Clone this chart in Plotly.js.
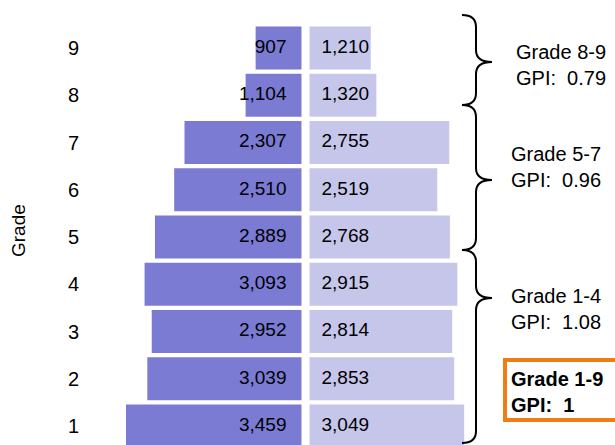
<!DOCTYPE html>
<html>
<head>
<meta charset="utf-8">
<script src="https://cdn.plot.ly/plotly-3.0.1.min.js"></script>
<style>html,body{margin:0;padding:0;background:#fff;}#chart{width:615px;height:445px;}</style>
</head>
<body>
<div id="chart"></div>
<script>
// ---- data ----
const grades = [1, 2, 3, 4, 5, 6, 7, 8, 9];
const gradeLabels = ['1', '2', '3', '4', '5', '6', '7', '8', '9'];
const girls = [3459, 3039, 2952, 3093, 2889, 2510, 2307, 1104, 907];   // left bars
const boys  = [3049, 2853, 2814, 2915, 2768, 2519, 2755, 1320, 1210];  // right bars
const groupTitles = ['Grade 8-9', 'Grade 5-7', 'Grade 1-4'];
const groupGPI = ['0.79', '0.96', '1.08'];
const totalTitle = 'Grade 1-9';
const totalGPI = '1';
const axisTitle = 'Grade';

// ---- layout helpers ----
const W = 615, H = 445;
const px = x => x / W;
const py = y => 1 - y / H;
const fmt = v => v.toLocaleString('en-US');

const leftColor = '#7b7bd3';
const rightColor = '#c6c6eb';
const fontFam = 'Liberation Sans, Arial, sans-serif';

const traces = [
  {type: 'bar', orientation: 'h', x: girls, y: grades, xaxis: 'x', yaxis: 'y',
   width: 0.91, marker: {color: leftColor}, name: 'Girls'},
  {type: 'bar', orientation: 'h', x: boys, y: grades, xaxis: 'x2', yaxis: 'y',
   width: 0.91, marker: {color: rightColor}, name: 'Boys'},
  {type: 'scatter', mode: 'text', x: grades.map(() => 300), y: grades, xaxis: 'x', yaxis: 'y',
   text: girls.map(fmt), textposition: 'middle left',
   textfont: {family: fontFam, size: 19, color: '#000'}},
  {type: 'scatter', mode: 'text', x: grades.map(() => 240), y: grades, xaxis: 'x2', yaxis: 'y',
   text: boys.map(fmt), textposition: 'middle right',
   textfont: {family: fontFam, size: 19, color: '#000'}}
];

function brace(ytop, ytip, ybot) {
  const xL = 462, xs = 476, xt = 492, r = 12;
  const P = (x, y) => px(x).toFixed(5) + ',' + py(y).toFixed(5);
  return 'M' + P(xL, ytop) +
    ' Q' + P(xs, ytop) + ' ' + P(xs, ytop + r) +
    ' L' + P(xs, ytip - r) +
    ' Q' + P(xs, ytip) + ' ' + P(xt, ytip) +
    ' Q' + P(xs, ytip) + ' ' + P(xs, ytip + r) +
    ' L' + P(xs, ybot - r) +
    ' Q' + P(xs, ybot) + ' ' + P(xL, ybot);
}
const braceSpans = [[15, 62, 105], [105, 180, 250], [250, 298, 443]];
const shapes = braceSpans.map(s => ({
  type: 'path', xref: 'paper', yref: 'paper', path: brace(s[0], s[1], s[2]),
  line: {color: '#000', width: 2}
}));
shapes.push({type: 'rect', xref: 'paper', yref: 'paper',
  x0: px(505), x1: px(640), y0: py(360), y1: py(420),
  line: {color: '#ef7d14', width: 4}, fillcolor: 'rgba(0,0,0,0)'});

const labelY = [65, 167, 309];
const annotations = groupTitles.map((t, i) => ({
  xref: 'paper', yref: 'paper', x: px(i === 0 ? 514 : 509), y: py(labelY[i]),
  xanchor: 'left', yanchor: 'middle', align: 'left', showarrow: false,
  text: t + '<br>GPI:&nbsp; ' + groupGPI[i],
  font: {family: fontFam, size: 20, color: '#000'}
}));
annotations.push({
  xref: 'paper', yref: 'paper', x: px(509), y: py(392),
  xanchor: 'left', yanchor: 'middle', align: 'left', showarrow: false,
  text: '<b>' + totalTitle + '<br>GPI:&nbsp; ' + totalGPI + '</b>',
  font: {family: fontFam, size: 20, color: '#000'}
});
annotations.push({
  xref: 'paper', yref: 'paper', x: px(18), y: py(231),
  xanchor: 'center', yanchor: 'middle', textangle: -90, showarrow: false,
  text: axisTitle, font: {family: fontFam, size: 19, color: '#000'}
});

const layout = {
  width: W, height: H,
  margin: {l: 0, r: 0, t: 0, b: 0},
  paper_bgcolor: '#fff', plot_bgcolor: '#fff',
  showlegend: false,
  hovermode: false,
  xaxis: {domain: [0, px(301.7)], range: [5939, 0], visible: false, fixedrange: true},
  xaxis2: {domain: [px(309.3), 1], range: [0, 6018], visible: false, anchor: 'y', fixedrange: true},
  yaxis: {range: [0.598, 10.016], anchor: 'free', position: px(79),
    tickvals: grades, ticktext: gradeLabels, showgrid: false, zeroline: false,
    showline: false, ticks: '',
    tickfont: {family: fontFam, size: 20, color: '#000'}},
  shapes: shapes,
  annotations: annotations
};

Plotly.newPlot('chart', traces, layout, {staticPlot: true, displayModeBar: false});
</script>
</body>
</html>
